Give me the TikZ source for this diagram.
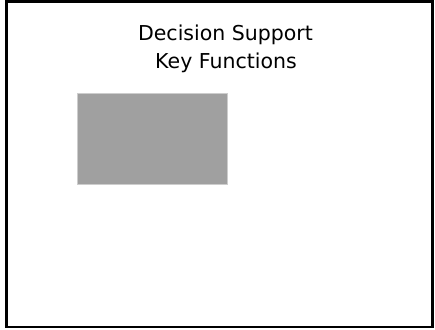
\documentclass[tikz,border=0pt]{standalone}
\usepackage{fontspec}
\setmainfont{DejaVu Sans}
\definecolor{boxgray}{RGB}{160,160,160}
\definecolor{boxedge}{RGB}{205,205,205}
\tikzset{
  frame/.style={draw=black, line width=2.5pt},
  titletext/.style={inner sep=0pt, anchor=base, font=\fontsize{20.5}{27}\selectfont, text=black},
  graybox/.style={fill=boxgray, draw=boxedge, line width=0.8pt}
}
\begin{document}
\begin{tikzpicture}[x=1pt,y=-1pt]
\useasboundingbox (0,0) rectangle (435,329);
\draw[frame] (6.5,1.3) rectangle (432.5,327);
\node[titletext] (title1) at (225.5,41) {Decision Support};
\node[titletext] (title2) at (226,68) {Key Functions};
\path[graybox] (77,93) rectangle (227.5,184) node[midway] (box) {};
\end{tikzpicture}
\end{document}
